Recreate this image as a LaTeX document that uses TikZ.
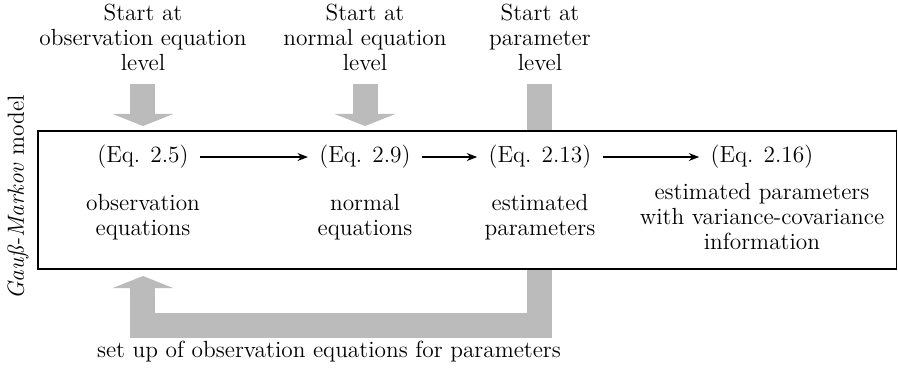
\documentclass[tikz,border=0pt]{standalone}
\usepackage{tikz}
\usepackage{xcolor}
\usetikzlibrary{arrows.meta,positioning,calc}
\definecolor{ink}{HTML}{000000}
\definecolor{shade}{HTML}{BBBBBB}
\tikzset{
  frame/.style={draw=ink,line width=0.7pt,minimum width=14.48cm,minimum height=2.33cm,inner sep=0pt},
  lbl/.style={align=center,text=ink,font=\fontsize{11.2pt}{12pt}\selectfont},
  flow/.style={-{Stealth[length=5pt,width=3.8pt]},line width=0.6pt,draw=ink,shorten <=2pt,shorten >=2pt},
  bigflow/.style={-{Triangle[length=5.8pt,width=29pt]},line width=12pt,draw=shade},
  bigbar/.style={line width=12pt,draw=shade}
}

\begin{document}
\begin{tikzpicture}
  \useasboundingbox (0,0) rectangle (15.15,-6.259);
  % model frame
  \node[frame] (model) at (7.882,-3.374) {};
  \node[lbl,rotate=90] (gm) at (0.304,-3.33) {\textit{Gau\ss-Markov} model};

  % entry points
  \node[lbl] (start1) at (2.412,-0.633) {Start at\\observation equation\\level};
  \node[lbl] (start2) at (6.158,-0.633) {Start at\\normal equation\\level};
  \node[lbl] (start3) at (9.110,-0.633) {Start at\\parameter\\level};

  % equations
  \node[lbl] (eq1) at (2.412,-2.649) {(Eq. 2.5)};
  \node[lbl] (eq2) at (6.158,-2.649) {(Eq. 2.9)};
  \node[lbl] (eq3) at (9.110,-2.649) {(Eq. 2.13)};
  \node[lbl] (eq4) at (12.855,-2.649) {(Eq. 2.16)};
  \node[lbl] (obs) at (2.412,-3.661) {observation\\equations};
  \node[lbl] (nrm) at (6.158,-3.661) {normal\\equations};
  \node[lbl] (est) at (9.110,-3.661) {estimated\\parameters};
  \node[lbl] (var) at (12.855,-3.660) {estimated parameters\\with variance-covariance\\information};

  \draw[flow] (eq1) -- (eq2);
  \draw[flow] (eq2) -- (eq3);
  \draw[flow] (eq3) -- (eq4);

  % gray arrows
  \draw[bigflow,shorten <=3pt,shorten >=2pt] (start1.south) -- (start1.south |- model.north);
  \draw[bigflow,shorten <=3pt,shorten >=2pt] (start2.south) -- (start2.south |- model.north);
  \draw[bigbar,shorten <=3pt] (start3.south) -- (start3.south |- model.north);
  \draw[bigflow,shorten >=3pt] (model.south -| est) -- ++(0,-0.94) -| (model.south -| obs);

  \node[lbl] (setup) at (5.550,-5.938) {set up of observation equations for parameters};
\end{tikzpicture}
\end{document}
